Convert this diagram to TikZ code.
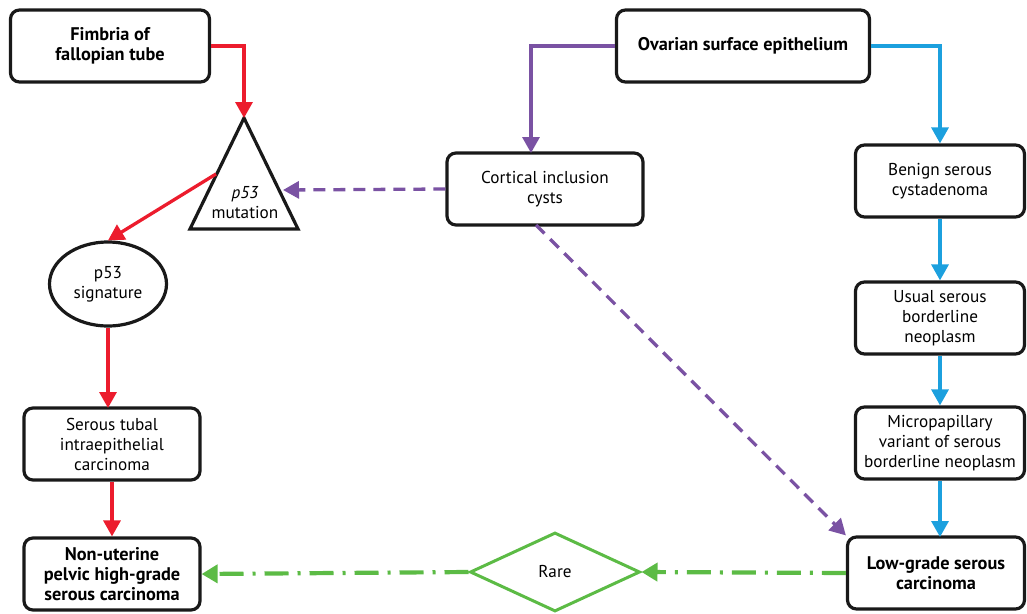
\documentclass[tikz,border=0pt]{standalone}
\usepackage{fontspec}
\setmainfont{PT Sans}
\usetikzlibrary{shapes.geometric,arrows.meta}
\definecolor{cred}{HTML}{EC1C2D}
\definecolor{cpurple}{HTML}{7A52A3}
\definecolor{cblue}{HTML}{1CA0DE}
\definecolor{cgreen}{HTML}{5CBB45}
\tikzset{
  txt/.style={font=\fontsize{17.2}{20}\selectfont},
  btxt/.style={font=\fontsize{18.3}{20}\selectfont\bfseries},
  box/.style={draw=black!90, line width=3.2pt, rounded corners=9pt, align=center, txt, inner sep=2pt},
  bbox/.style={box, btxt},
  arr/.style={line width=3.3pt, -{Triangle[length=16pt,width=17pt]}},
  redarr/.style={arr, draw=cred},
  bluearr/.style={arr, draw=cblue},
  purparr/.style={arr, draw=cpurple},
  purpdash/.style={purparr, dash pattern=on 12pt off 8pt},
  greenarr/.style={line width=4.2pt, draw=cgreen, -{Triangle[length=16pt,width=18pt]}, dash pattern=on 24pt off 9pt on 3pt off 9pt},
}
\begin{document}
\begin{tikzpicture}[x=1pt,y=-1pt]
\useasboundingbox (0,0) rectangle (1027,613);
% left column
\node[bbox, minimum width=199pt, minimum height=72pt] (fim) at (110,46) {Fimbria of\\fallopian tube};
\coordinate (apex) at (244,118);
\coordinate (bl) at (190,229);
\coordinate (br) at (298,229);
\draw[line width=3.2pt, draw=black!90, line join=miter] (apex) -- (bl) -- (br) -- cycle;
\node[align=center, txt, inner sep=0pt] (mut) at (245,203) {\textit{p53}\\mutation};
\coordinate (tleft) at (216,174);
\coordinate (tright) at (283,190);
\node[draw=black!90, line width=3.2pt, ellipse, minimum width=117pt, minimum height=84pt, align=center, txt, inner sep=0pt] (sig) at (108,284) {p53\\signature};
\node[box, minimum width=176pt, minimum height=72pt] (stic) at (112,444) {Serous tubal\\intraepithelial\\carcinoma};
\node[bbox, minimum width=176pt, minimum height=72pt] (hgsc) at (112,574) {Non-uterine\\pelvic high-grade\\serous carcinoma};
% middle
\node[box, minimum width=196pt, minimum height=72pt] (cic) at (545,189) {Cortical inclusion\\cysts};
\coordinate (cictop) at (531,153);
\coordinate (cicbot) at (536,225);
\node[draw=cgreen, line width=3pt, diamond, aspect=2.15, minimum width=170pt, minimum height=79pt, inner sep=0pt, txt] (rare) at (555,572) {Rare};
% right
\node[bbox, minimum width=253pt, minimum height=72pt] (ose) at (743,46) {Ovarian surface epithelium};
\node[box, minimum width=169pt, minimum height=72pt] (ben) at (940,181) {Benign serous\\cystadenoma};
\node[box, minimum width=169pt, minimum height=72pt] (usb) at (940,318) {Usual serous\\borderline\\neoplasm};
\node[box, minimum width=169pt, minimum height=72pt] (mp) at (940,443) {Micropapillary\\variant of serous\\borderline neoplasm};
\node[bbox, minimum width=177pt, minimum height=72pt] (lg) at (936,573) {Low-grade serous\\carcinoma};
\coordinate (sigbot) at (108,408);
\coordinate (lgtop) at (940,537);
% red arrows
\draw[redarr] (fim.east) -| (apex);
\draw[redarr] (tleft) -- (sig.north);
\draw[redarr] (sig.south) -- (sigbot);
\draw[redarr] (stic.south) -- (hgsc.north);
% purple
\draw[purparr] (ose.west) -| (cictop);
\draw[purpdash] (cic.west) -- (tright);
\draw[purpdash] (cicbot) -- (lg.north west);
% blue
\draw[bluearr] (ose.east) -| (ben.north);
\draw[bluearr] (ben.south) -- (usb.north);
\draw[bluearr] (usb.south) -- (mp.north);
\draw[bluearr] (mp.south) -- (lgtop);
% green
\draw[greenarr] (lg.west) -- (rare.east);
\draw[greenarr] (rare.west) -- (hgsc.east);
\end{tikzpicture}
\end{document}
